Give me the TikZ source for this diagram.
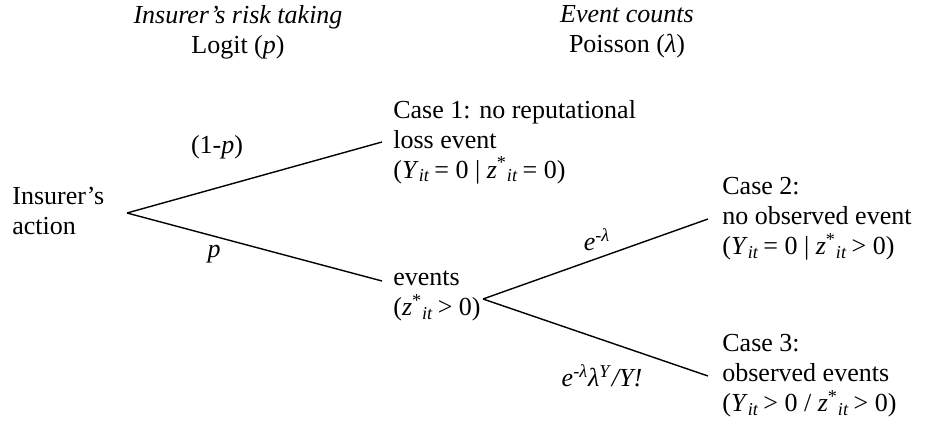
\documentclass[tikz,border=0pt]{standalone}
\usepackage{fontspec}
\setmainfont{Liberation Serif}
\usepackage{tikz}
\usetikzlibrary{positioning}

\newcommand{\vY}{\textit{Y}\textsubscript{\textit{it}}}
\newcommand{\vz}{\textit{z}\textsuperscript{*}\textsubscript{\textit{it}}}
\newcommand{\lam}{\textit{λ}}

\tikzset{
  lbl/.style={align=left, anchor=west, inner sep=0pt},
  head/.style={align=center, inner sep=0pt},
  prob/.style={inner sep=0pt},
  branch/.style={line width=0.8pt}
}

\begin{document}
\begin{tikzpicture}[x=0.02cm, y=-0.02cm, font=\fontsize{14.8}{17}\selectfont]
  \useasboundingbox (0,0) rectangle (949,425);
  % column titles
  \node[head] (hlogit) at (238,32) {\textit{Insurer’s risk taking}\\Logit (\textit{p})};
  \node[head] (hpois) at (627,32) {\textit{Event counts}\\Poisson (\lam)};
  % tree
  \node[lbl] (act) at (12,211) {Insurer’s\\action};
  \coordinate (root) at (127,213);
  \coordinate (c1) at (382,142);
  \coordinate (evp) at (382,281);
  \node[lbl] (case1) at (393,142) {Case 1: no reputational\\loss event\\(\vY\,= 0 | \vz\,= 0)};
  \node[lbl] (ev) at (393,296) {events\\(\vz\,{>} 0)};
  \coordinate (fork) at (483,299);
  \coordinate (c2) at (708,219);
  \coordinate (c3) at (708,376);
  \node[lbl] (case2) at (722,219) {Case 2:\\no observed event\\(\vY\,= 0 | \vz\,{>} 0)};
  \node[lbl] (case3) at (722,376) {Case 3:\\observed events\\(\vY\,{>} 0 / \vz\,{>} 0)};
  \draw[branch] (root) -- (c1);
  \draw[branch] (root) -- (evp);
  \draw[branch] (fork) -- (c2);
  \draw[branch] (fork) -- (c3);
  % branch probabilities
  \node[prob] (p1) at (217,147) {(1-\textit{p})};
  \node[prob] (p2) at (214,254) {\textit{p}};
  \node[prob] (q1) at (597,240) {\textit{e}\textsuperscript{-\lam}};
  \node[prob] (q2) at (602,376) {\textit{e}\textsuperscript{-\lam}\lam\textsuperscript{\textit{Y}}\textit{/Y!}};
\end{tikzpicture}
\end{document}
